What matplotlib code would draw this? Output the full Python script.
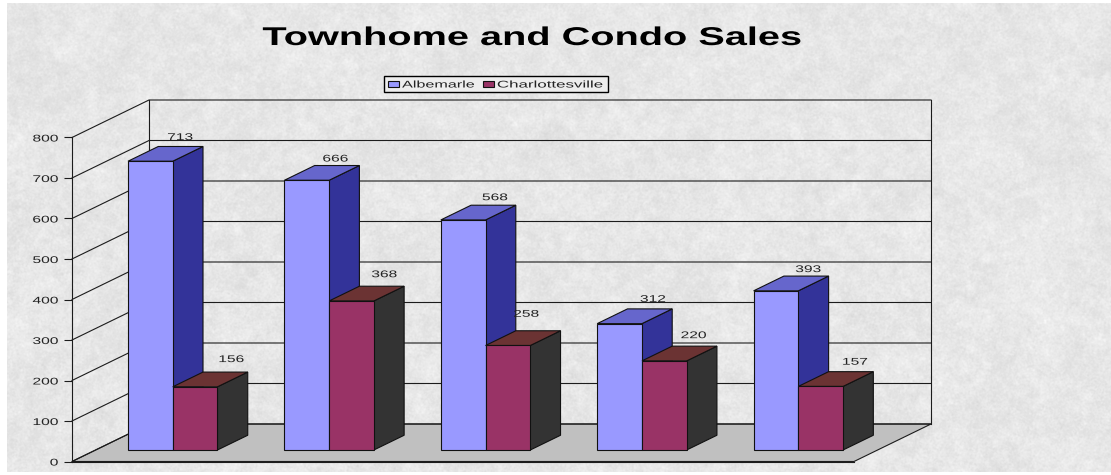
import numpy as np
import matplotlib
matplotlib.use("Agg")
import matplotlib.pyplot as plt
from matplotlib.patches import Patch, Polygon, Rectangle
from matplotlib.patheffects import AbstractPathEffect
from matplotlib.transforms import Affine2D

# ---------- data ----------
title = "Townhome and Condo Sales"
series_names = ["Albemarle", "Charlottesville"]
albemarle = [713, 666, 568, 312, 393]
charlottesville = [156, 368, 258, 220, 157]
y_ticks = [0, 100, 200, 300, 400, 500, 600, 700, 800]

# ---------- style ----------
W, H = 1111, 475
PX_PER_CAT = 156.4        # horizontal pixels for one category
PX_PER_VAL = 0.405        # vertical pixels for one value unit
X0_PX, Y0_PX = 72.0, 461.5
WALL_DX = 77.0 / PX_PER_CAT     # depth offset, category units
WALL_DY = 37.5 / PX_PER_VAL     # depth offset, value units
BAR_D0, BAR_D1 = 0.307, 0.70    # depth range of bars (0 front .. 1 back wall)
GROUP_START = 0.207
BAR_W = 0.286
LINE = "#1c1c1c"
LW = 0.8
faces = [("#9999FF", "#6666CC", "#333399"), ("#993366", "#6B3333", "#333333")]
# label nudges in pixels, relative to the centre of the bar's back top edge
nudge_x = [[-0.5, -1.5, 1.5, 3, 2], [6, 2.5, -12, -1, 4]]
nudge_y = [[9.5, 7, 8, 10, 7], [13, 12, 17, 11, 10]]
legend_stretch = [1.66, 1.74]


class HStretch(AbstractPathEffect):
    """Widen glyphs horizontally about the text's anchor (source looks stretched)."""
    def __init__(self, sx, anchor="center"):
        super().__init__()
        self.sx, self.anchor = sx, anchor

    def draw_path(self, renderer, gc, tpath, affine, rgbFace=None):
        e = tpath.get_extents()
        a = {"left": e.x0, "center": (e.x0 + e.x1) / 2, "right": e.x1}[self.anchor]
        pre = Affine2D().translate(-a, 0).scale(self.sx, 1).translate(a, 0)
        renderer.draw_path(gc, tpath, pre + affine, rgbFace)


plt.rcParams["font.family"] = ["Liberation Sans", "DejaVu Sans"]
fig = plt.figure(figsize=(W / 100, H / 100), dpi=100, facecolor="white")

# mottled paper background (decoration only, not data)
rng = np.random.default_rng(3)
bx, by = 7, 3
bw, bh = W - bx, 472 - by
tex = np.zeros((bh, bw))
for cut, amp in ((0.012, 1.3), (0.05, 2.0), (0.22, 2.4)):
    n = rng.normal(size=(bh, bw))
    fy = np.fft.fftfreq(bh)[:, None]
    fx = np.fft.rfftfreq(bw)[None, :]
    f = np.fft.rfft2(n) * np.exp(-(fx**2 + fy**2) / (2 * cut**2))
    b = np.fft.irfft2(f, s=(bh, bw))
    tex += amp * b / b.std()
bg_ax = fig.add_axes([bx / W, 1 - (by + bh) / H, bw / W, bh / H], zorder=0)
bg_ax.imshow(np.clip(230 + tex, 0, 255), cmap="gray", vmin=0, vmax=255,
             aspect="auto", interpolation="bilinear")
bg_ax.axis("off")

ax = fig.add_axes([0, 0, 1, 1], zorder=1)
ax.patch.set_alpha(0)
ax.set_xlim(-X0_PX / PX_PER_CAT, (W - X0_PX) / PX_PER_CAT)
ax.set_ylim(-(H - Y0_PX) / PX_PER_VAL, Y0_PX / PX_PER_VAL)


def proj(x, v, d):
    return (x + d * WALL_DX, v + d * WALL_DY)


n_cat = len(albemarle)
vmax = y_ticks[-1]

# floor
ax.add_patch(Polygon([proj(0, 0, 0), proj(n_cat, 0, 0), proj(n_cat, 0, 1), proj(0, 0, 1)],
                     closed=True, fc="#C0C0C0", ec=LINE, lw=LW, zorder=2))
# walls and grid
for t in y_ticks:
    a, b, c = proj(0, t, 0), proj(0, t, 1), proj(n_cat, t, 1)
    ax.plot([a[0], b[0], c[0]], [a[1], b[1], c[1]], color=LINE, lw=LW, zorder=2,
            solid_joinstyle="miter")
for x_edge in (0, n_cat):
    a, b = proj(x_edge, 0, 1), proj(x_edge, vmax, 1)
    ax.plot([a[0], b[0]], [a[1], b[1]], color=LINE, lw=LW, zorder=2)

# bars
zo = 3
for i in range(n_cat):
    for s, vals in enumerate((albemarle, charlottesville)):
        v = vals[i]
        x0 = i + GROUP_START + s * BAR_W
        x1 = x0 + BAR_W
        fc_front, fc_top, fc_side = faces[s]
        quad = lambda pts, fc: ax.add_patch(Polygon(pts, closed=True, fc=fc, ec="#111111",
                                                    lw=LW, joinstyle="miter", zorder=zo))
        quad([proj(x1, 0, BAR_D0), proj(x1, 0, BAR_D1), proj(x1, v, BAR_D1), proj(x1, v, BAR_D0)], fc_side)
        quad([proj(x0, v, BAR_D0), proj(x1, v, BAR_D0), proj(x1, v, BAR_D1), proj(x0, v, BAR_D1)], fc_top)
        quad([proj(x0, 0, BAR_D0), proj(x1, 0, BAR_D0), proj(x1, v, BAR_D0), proj(x0, v, BAR_D0)], fc_front)
        cx, cy = proj((x0 + x1) / 2, v, BAR_D1)
        ax.annotate(str(v), (cx, cy),
                    xytext=(nudge_x[s][i] * 0.72, nudge_y[s][i] * 0.72),
                    textcoords="offset points", ha="center", va="center",
                    fontsize=7, color="#222222", zorder=10,
                    path_effects=[HStretch(1.6, "center")])
        zo += 1

# axes: real y axis with ticks, baseline along front of the floor
for name in ("top", "right"):
    ax.spines[name].set_visible(False)
ax.spines["left"].set_position(("data", 0))
ax.spines["bottom"].set_position(("data", 0))
ax.spines["left"].set_bounds(0, vmax)
ax.spines["bottom"].set_bounds(0, n_cat)
for name in ("left", "bottom"):
    ax.spines[name].set_color(LINE)
    ax.spines[name].set_linewidth(LW)
    ax.spines[name].set_zorder(20)
ax.set_xticks([])
ax.set_yticks(y_ticks)
ax.tick_params(axis="y", direction="out", length=5.8, width=LW, color=LINE,
               pad=4.2, labelsize=7, labelcolor="#222222")
for lab in ax.get_yticklabels():
    lab.set_path_effects([HStretch(1.6, "right")])

# title
ax.set_title(title, x=532.5 / W, y=1 - 45 / H, pad=0, fontsize=18.5, fontweight="bold",
             color="black", path_effects=[HStretch(1.545, "center")])

# legend
ax.add_patch(Rectangle((383.5 / W, 1 - 92 / H), 224 / W, 15.5 / H, transform=fig.transFigure,
                       fc="#EEEEEE", ec="black", lw=1.0, zorder=25))
leg = ax.legend(handles=[Patch(fc=faces[0][0], ec="#111111", lw=0.8, label=series_names[0]),
                         Patch(fc=faces[1][0], ec="#111111", lw=0.8, label=series_names[1])],
                ncols=2, loc="center left", bbox_to_anchor=(388 / W, 1 - 84.5 / H),
                bbox_transform=fig.transFigure, frameon=False, borderpad=0, borderaxespad=0,
                fontsize=7, handlelength=1.15, handleheight=0.6, handletextpad=0.3,
                columnspacing=3.85)
leg.set_zorder(30)
for t, sx in zip(leg.get_texts(), legend_stretch):
    t.set_color("#222222")
    t.set_path_effects([HStretch(sx, "left")])

fig.savefig("out.png", dpi=100, facecolor="white")
